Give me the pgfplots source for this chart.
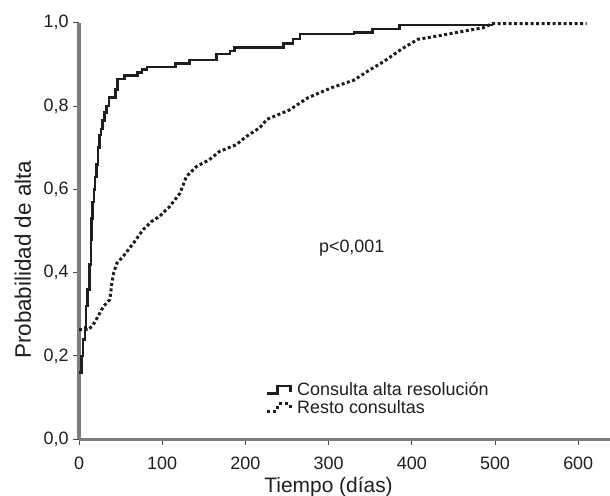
\documentclass[border=0pt]{standalone}
\usepackage{pgfplots}
\pgfplotsset{compat=1.18}
\usepackage{fontspec}
\setmainfont{Liberation Sans}
\definecolor{axgray}{RGB}{125,125,125}
\definecolor{ink}{RGB}{30,30,30}
\begin{document}
\begin{tikzpicture}
\useasboundingbox (0,0) rectangle (610bp,496bp);
\begin{axis}[
  at={(79bp,56.7bp)}, anchor=south west,
  scale only axis, width=531bp, height=416.6bp,
  xmin=0, xmax=638.2, ymin=0, ymax=1,
  clip=false,
  axis x line=bottom, axis y line=left,
  axis line style={-, axgray, line width=3.2bp},
  tick align=outside, major tick length=5.5bp,
  every tick/.style={ink!80, line width=1bp},
  xtick={0,100,200,300,400,500,600},
  ytick={0,0.2,0.4,0.6,0.8,1},
  yticklabel style={xshift=-1.5bp, /pgf/number format/.cd, use comma, fixed, fixed zerofill, precision=1},
  /pgf/number format/assume math mode=true,
  tick label style={font=\fontsize{18}{18}\selectfont, text=ink},
  xticklabel style={yshift=-9bp},
  xlabel={Tiempo (días)}, ylabel={Probabilidad de alta},
  label style={text=ink},
  x label style={font=\fontsize{21}{21}\selectfont, at={(rel axis cs:0.47,-0.1147)}, anchor=center},
  y label style={font=\fontsize{22.5}{22.5}\selectfont, at={(rel axis cs:-0.1055,0.431)}, anchor=center},
  legend style={at={(rel axis cs:0.3503,0.0974)}, anchor=west, draw=none, fill=none,
    font=\fontsize{18}{18}\selectfont, text=ink, row sep=1bp, inner sep=0pt,
    nodes={inner sep=1bp},
    /tikz/every odd column/.append style={column sep=4bp}},
  legend cell align=left,
]
\addplot[ink, line width=2.6bp, const plot,
  legend image code/.code={\draw[ink, line width=2.6bp] (0bp,-3.5bp) -- (11bp,-3.5bp) -- (11bp,4bp) -- (24bp,4bp) -- (24bp,-2bp);}]
  table {
0 0.16
3 0.20
5 0.24
7 0.27
8.5 0.32
10.4 0.36
12.3 0.42
14.2 0.48
15.2 0.53
16.1 0.57
18 0.60
19 0.63
20.9 0.66
22.8 0.70
24.7 0.73
26.6 0.745
28.5 0.765
30.4 0.785
33.2 0.80
36 0.82
43.7 0.84
46.5 0.865
55 0.873
70.2 0.88
75.9 0.888
81.6 0.894
115.8 0.902
132.9 0.910
165.1 0.925
181.3 0.932
187 0.94
245.8 0.95
257.2 0.961
265.7 0.973
330.3 0.977
353 0.985
385.3 0.994
498 0.994
};
\addlegendentry{Consulta alta resolución}
\addplot[ink, line width=3bp, dash pattern=on 3bp off 2.5bp,
  legend image code/.code={\draw[ink, line width=3bp, dash pattern=on 3bp off 3.5bp] (0bp,-3.5bp) -- (11bp,-3.5bp) -- (11bp,4bp) -- (24bp,4bp) -- (24bp,-2bp);}]
  table {
0 0.263
11.4 0.263
17.1 0.275
22.8 0.295
29.4 0.319
37 0.335
39.9 0.38
41.8 0.40
45.6 0.423
53.1 0.439
65.5 0.471
76.9 0.503
87.3 0.523
96.8 0.535
109.1 0.559
121.5 0.591
129.1 0.631
141.4 0.655
156.6 0.671
168.9 0.691
188.9 0.707
201.2 0.727
217.3 0.748
225.9 0.768
252.4 0.79
275.2 0.82
303.7 0.844
330.3 0.862
347.3 0.884
367.3 0.908
387.2 0.936
407.1 0.96
430.8 0.968
463.1 0.98
486 0.988
497 0.998
610 0.998
};
\addlegendentry{Resto consultas}
\node[font=\fontsize{18}{18}\selectfont, text=ink] at (axis cs:327.8,0.459) {p<0,001};
\end{axis}
\end{tikzpicture}
\end{document}
